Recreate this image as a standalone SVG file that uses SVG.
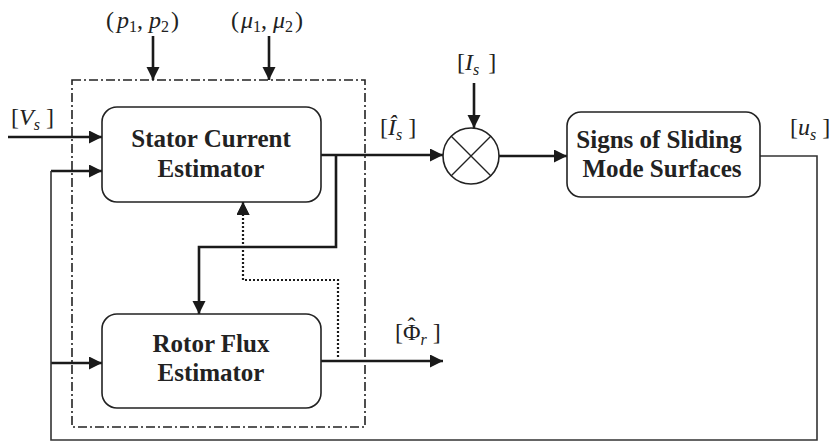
<svg xmlns="http://www.w3.org/2000/svg" width="833" height="444" viewBox="0 0 833 444">
<style>
.box{fill:#fff;stroke:#222;stroke-width:1.6}
.bt{font-weight:bold;font-size:25px;fill:#222;text-anchor:middle}
.lab{font-size:24px;fill:#222}
.it{font-style:italic}
.sub{font-size:16px;font-style:italic}
.up{font-style:normal}
.w{fill:none;stroke:#1a1a1a;stroke-width:2.6}
.fb{fill:none;stroke:#333;stroke-width:1.6}
.dot{fill:none;stroke:#1a1a1a;stroke-width:2.2;stroke-dasharray:2 2}
</style>
<defs>
<marker id="ah" markerUnits="userSpaceOnUse" markerWidth="14" markerHeight="14" refX="13" refY="6.5" orient="auto">
<path d="M0,0 L13,6.5 L0,13 Z" fill="#1a1a1a"/>
</marker>
</defs>
<rect id="frame" x="72" y="80" width="293" height="347" fill="none" stroke="#222" stroke-width="1.6" stroke-dasharray="9 3 2 3"/>
<g id="connectors">
<path class="w" d="M8,137 H102" marker-end="url(#ah)"/>
<path class="w" d="M51,171 H102" marker-end="url(#ah)"/>
<path class="w" d="M51,363 H102" marker-end="url(#ah)"/>
<path class="fb" d="M760,156 H817 V440 H51 V171"/>
<path class="w" d="M153,36 V80" marker-end="url(#ah)"/>
<path class="w" d="M269,36 V80" marker-end="url(#ah)"/>
<path class="w" d="M321,155 H443" marker-end="url(#ah)"/>
<path class="w" d="M336,155 V247 H199 V314" marker-end="url(#ah)"/>
<path class="w" d="M321,361 H443" marker-end="url(#ah)"/>
<path class="dot" d="M338,357 V280 H243 V202" marker-end="url(#ah)"/>
<path class="dot" d="M243,212 V202" marker-end="url(#ah)"/>
<path class="w" d="M474,83 V128" marker-end="url(#ah)"/>
<path class="w" d="M499,156 H567" marker-end="url(#ah)"/>
</g>
<g font-family="Liberation Serif, Times New Roman, serif">
<g id="stator">
<rect class="box" x="102" y="107" width="219" height="95" rx="15"/>
<text class="bt" x="211" y="147">Stator Current</text>
<text class="bt" x="211" y="177">Estimator</text>
</g>
<g id="rotor">
<rect class="box" x="102" y="314" width="219" height="94" rx="15"/>
<text class="bt" x="211" y="352">Rotor Flux</text>
<text class="bt" x="211" y="381">Estimator</text>
</g>
<g id="sum">
<ellipse cx="471" cy="156" rx="28" ry="28" fill="#fff" stroke="#222" stroke-width="1.6"/>
<path d="M451,136 L491,176 M491,136 L451,176" stroke="#222" stroke-width="1.4"/>
</g>
<g id="signs">
<rect class="box" x="567" y="112" width="193" height="85" rx="14"/>
<text class="bt" x="659" y="148">Signs of Sliding</text>
<text class="bt" x="662" y="177">Mode Surfaces</text>
</g>
<g id="labels">
<text class="lab" x="106" y="28" font-size="26">(<tspan class="it" dx="3">p</tspan><tspan class="sub up" dy="4" font-size="17">1</tspan><tspan dy="-4">, </tspan><tspan class="it">p</tspan><tspan class="sub up" dy="4" font-size="17">2</tspan><tspan dy="-4" dx="2">)</tspan></text>
<text class="lab" x="231" y="28" font-size="26">(<tspan class="it" dx="2">μ</tspan><tspan class="sub up" dy="4" font-size="17">1</tspan><tspan dy="-4">, </tspan><tspan class="it">μ</tspan><tspan class="sub up" dy="4" font-size="17">2</tspan><tspan dy="-4" dx="2">)</tspan></text>
<text class="lab" x="11" y="125">[<tspan class="it">V</tspan><tspan class="sub" dy="5">s</tspan><tspan dy="-5"> ]</tspan></text>
<text class="lab" x="380" y="135">[<tspan class="it">Î</tspan><tspan class="sub" dy="5">s</tspan><tspan dy="-5"> ]</tspan></text>
<text class="lab" x="457" y="70">[<tspan class="it">I</tspan><tspan class="sub" dy="5">s</tspan><tspan dy="-5" dx="3"> ]</tspan></text>
<text class="lab" x="790" y="135">[<tspan class="it">u</tspan><tspan class="sub" dy="5">s</tspan><tspan dy="-5"> ]</tspan></text>
<text class="lab" x="395" y="340">[Φ<tspan dx="-13" dy="-6">ˆ</tspan><tspan class="sub" dx="5" dy="11">r</tspan><tspan dy="-5"> ]</tspan></text>
</g>
</g>
</svg>
